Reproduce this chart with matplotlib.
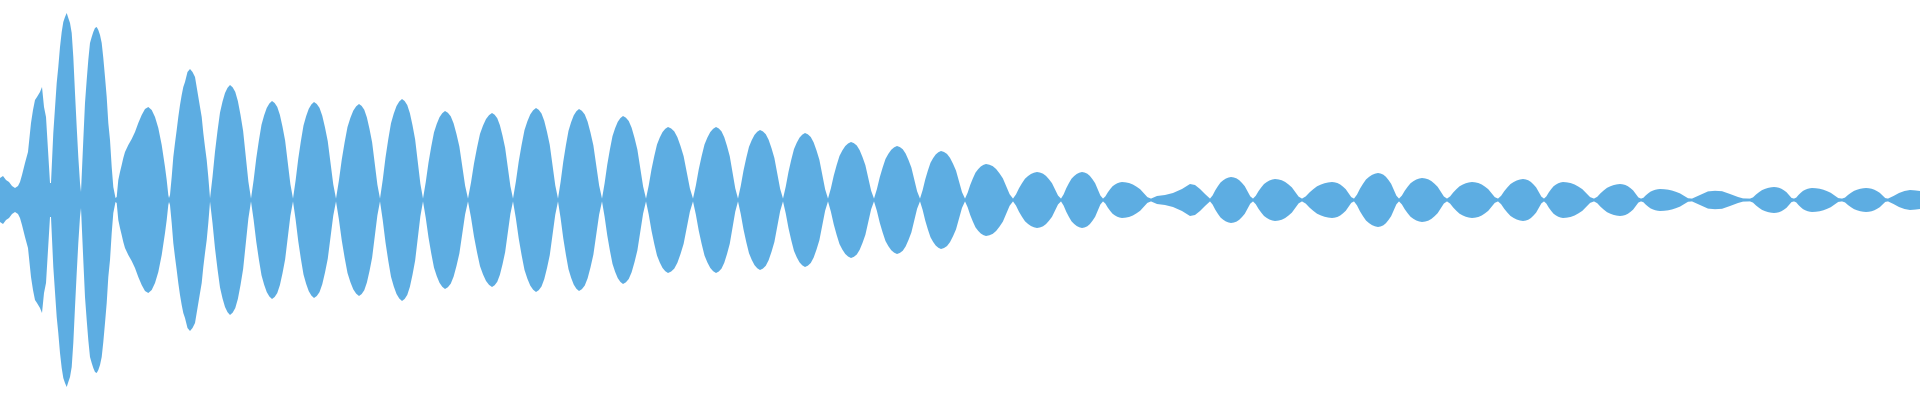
import matplotlib
matplotlib.use("Agg")
import matplotlib.pyplot as plt
import numpy as np

# ---- Data (time in ms, level in % of full scale) ----

# Onset and first large lobes, read point by point
head_t = [
    0, 3, 6, 9, 12, 15, 18, 20, 22, 25, 28, 31, 33, 35, 37, 40, 42, 44, 46, 48, 50,
    51, 53.3, 56.7, 58.3, 60, 61.7, 63.3, 65, 66.7, 68.3, 70, 71.7, 73.3, 75, 76.7, 78.3, 80, 81,
    83.3, 85, 86.7, 88.3, 90, 91.7, 93.3, 95, 96.7, 98.3, 100, 101.7, 103.3, 105, 106.7, 108.3,
    110, 111.7, 113.3, 115.5,
    116.7, 118.3, 120, 121.7, 123.3, 125, 128.3, 131.7, 135, 138.3, 141.7, 145, 148.3, 151.7,
    155, 158.3, 161.7, 165, 166.7, 168.3, 169,
    170, 171.7, 173.3, 175, 176.7, 178.3, 180, 181.7, 183.3, 185, 187.5, 190, 192.5, 195,
    197.5, 200, 201.7, 203.3, 205, 206.7, 208.3, 210,
]
head_level = [
    11, 12, 10, 9, 7, 6, 7, 9, 12.5, 18.5, 24, 38.5, 45, 50, 51.5, 54, 56.5, 46.5, 41.5, 25, 8.5,
    8.5, 33.5, 58.5, 66.5, 76.5, 84, 89, 91.5, 93.5, 91, 88.5, 83.5, 71.5, 53.5, 36.5, 21.5, 8.5, 4,
    30, 48.5, 60, 70, 78.5, 81.5, 84, 86, 86.5, 85, 82.5, 78.5, 71, 61.5, 51.5, 38.5,
    30, 16.5, 6.5, 1,
    1.5, 10, 14, 17.5, 21, 24, 27.5, 30.5, 34, 38.5, 42.5, 45.5, 46.5, 45,
    41.5, 36, 27.5, 16.5, 10, 2.5, 1,
    2.5, 11.5, 21.5, 28.5, 35, 41.5, 47.5, 52.5, 56.5, 59, 64, 65.5, 64, 61.5,
    54, 46.5, 41.5, 33.5, 26.5, 20, 11.5, 1,
]

# Regular lobes: start node, peak time, peak level, end node
lobe_start = [210, 251, 293, 336, 380, 423, 468, 513, 558, 602, 646, 693, 738, 783, 828,
              874, 920, 965, 1013, 1061, 1103, 1210, 1253, 1302, 1354, 1399, 1447, 1498,
              1544, 1594, 1641, 1750, 1794, 1842]
lobe_peak_t = [230, 272, 314, 359, 402, 445, 492, 536, 579, 623, 668, 716, 760, 805, 851,
               897, 941, 986, 1037, 1082, 1122, 1231, 1275, 1332, 1378, 1422, 1472, 1523,
               1563, 1620, 1660, 1774, 1812, 1866]
lobe_peak = [57.5, 49.5, 49, 48, 50.5, 44.5, 43.5, 46, 45.5, 42, 36.5, 36.5, 35, 33.5, 29,
             27, 24.5, 18, 14, 14, 9, 11.5, 10.5, 9, 13.5, 11, 9, 10.5,
             9, 8, 5.5, 6.5, 6, 6]
lobe_end = [251, 293, 336, 380, 423, 468, 513, 558, 602, 646, 693, 738, 783, 828, 874,
            920, 965, 1013, 1061, 1103, 1151, 1253, 1302, 1354, 1399, 1447, 1498, 1544,
            1594, 1641, 1692, 1794, 1842, 1888]

# Lobe outline measured on a reference lobe (fraction of span -> fraction of peak)
rise_frac = [0, 0.125, 0.25, 0.375, 0.5, 0.625, 0.75, 0.875, 1.0]
rise_shape = [0, 0.20, 0.42, 0.60, 0.76, 0.855, 0.93, 0.975, 1.0]
fall_frac = [0.125, 0.25, 0.375, 0.5, 0.625, 0.75, 0.875, 1.0]
fall_shape = [0.98, 0.94, 0.86, 0.74, 0.60, 0.38, 0.16, 0]

# Irregular stretches, read point by point
gap_t = [1157, 1165, 1173, 1182, 1190, 1195, 1200, 1205]
gap_level = [2, 2.5, 3.5, 5.5, 8, 7.5, 5.5, 3]
neck_t = [1700, 1708, 1715, 1722, 1730, 1738, 1743]
neck_level = [2.5, 4.3, 4.6, 4.4, 3, 1.5, 0.8]
tail_t = [1893.5, 1899, 1904.5, 1910, 1915, 1920]
tail_level = [2, 3.5, 4.5, 5, 4.8, 4.5]

node_level = 0.7
WAVE_COLOR = "#5DADE2"

# ---- Assemble the envelope ----
ts = [np.asarray(head_t, float), np.asarray(gap_t, float),
      np.asarray(neck_t, float), np.asarray(tail_t, float)]
vs = [np.asarray(head_level, float), np.asarray(gap_level, float),
      np.asarray(neck_level, float), np.asarray(tail_level, float)]
rf, rs = np.asarray(rise_frac), np.asarray(rise_shape)
ff, fs = np.asarray(fall_frac), np.asarray(fall_shape)
for s, p, a, e in zip(lobe_start, lobe_peak_t, lobe_peak, lobe_end):
    ts.append(s + rf * (p - s))
    vs.append(np.maximum(rs * a, node_level))
    ts.append(p + ff * (e - p))
    vs.append(np.maximum(fs * a, node_level))

t = np.concatenate(ts)
v = np.concatenate(vs)
order = np.argsort(t, kind="stable")
t, v = t[order], v[order]

fig = plt.figure(figsize=(19.2, 4.0), dpi=100)
ax = fig.add_axes([0, 0, 1, 1])
ax.fill_between(t, -v, v, color=WAVE_COLOR, linewidth=0)
ax.set_xlim(0, 1920)
ax.set_ylim(-100, 100)
ax.axis("off")
fig.savefig("out.png", dpi=100, facecolor="white")
